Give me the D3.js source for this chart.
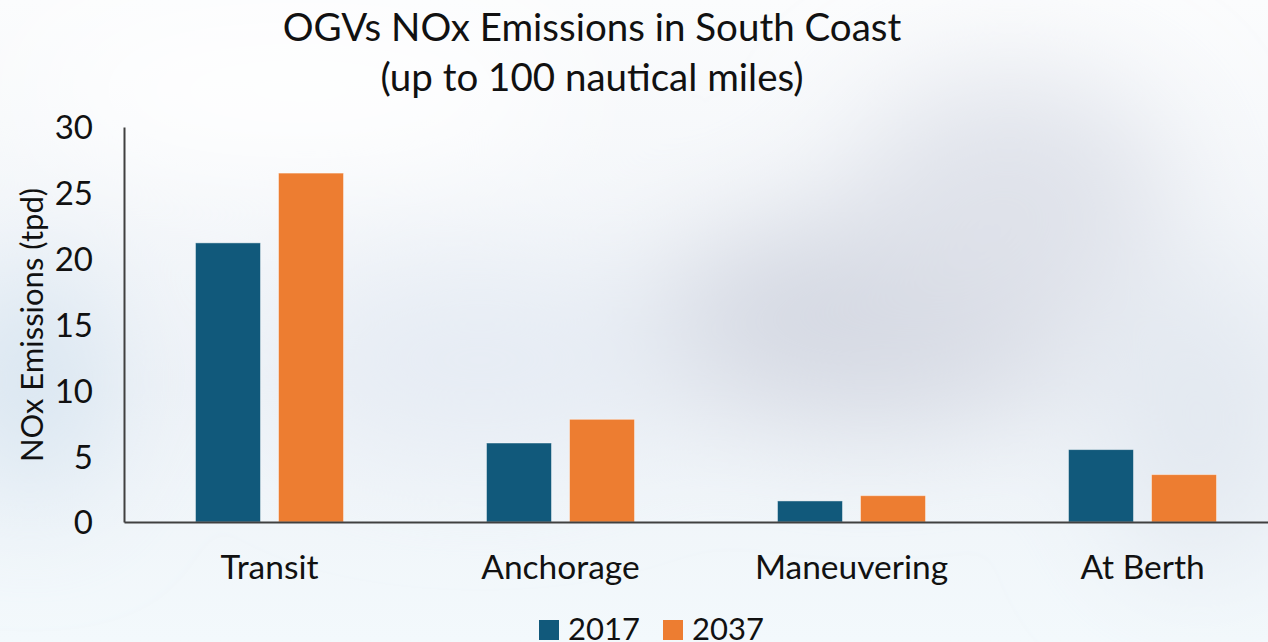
<!DOCTYPE html>
<html lang="en">
<head>
<meta charset="UTF-8">
<title>OGVs NOx Emissions in South Coast</title>
<style>
  html, body { margin: 0; padding: 0; overflow: hidden; background: #f4f7fa; }
  svg text { font-family: Lato, "Open Sans", sans-serif; fill: #111; }
</style>
<script src="https://d3js.org/d3.v7.min.js"></script>
</head>
<body>
<script>
const categories = ['Transit', 'Anchorage', 'Maneuvering', 'At Berth'];
const seriesNames = ['2017', '2037'];
const values2017 = [21.2, 6.0, 1.6, 5.5];
const values2037 = [26.5, 7.8, 2.0, 3.6];
const yTicks = [0, 5, 10, 15, 20, 25, 30];
const seriesColors = ['#11597b', '#ed7d31'];

const width = 1268, height = 642;

const svg = d3.select('body').append('svg')
  .attr('width', width)
  .attr('height', height);

// soft cloudy background
const defs = svg.append('defs');
defs.append('filter').attr('id', 'blur')
  .attr('x', '-50%').attr('y', '-50%').attr('width', '200%').attr('height', '200%')
  .append('feGaussianBlur').attr('stdDeviation', 60);

const bgGrad = defs.append('linearGradient').attr('id', 'bg')
  .attr('x1', 0).attr('y1', 0).attr('x2', 0).attr('y2', 1);
bgGrad.append('stop').attr('offset', 0).attr('stop-color', '#fbfcfd');
bgGrad.append('stop').attr('offset', 0.6).attr('stop-color', '#eef2f7');
bgGrad.append('stop').attr('offset', 1).attr('stop-color', '#f3f9fc');
svg.append('rect').attr('width', width).attr('height', height).attr('fill', 'url(#bg)');

const clouds = svg.append('g').attr('filter', 'url(#blur)');
clouds.append('ellipse').attr('cx', 870).attr('cy', 320).attr('rx', 220).attr('ry', 100).attr('fill', '#d4d8e2');
clouds.append('ellipse').attr('cx', 1010).attr('cy', 200).attr('rx', 160).attr('ry', 120).attr('fill', '#dfe2ea');
clouds.append('ellipse').attr('cx', 30).attr('cy', 380).attr('rx', 70).attr('ry', 120).attr('fill', '#d6e4f0');
clouds.append('ellipse').attr('cx', 480).attr('cy', 360).attr('rx', 200).attr('ry', 90).attr('fill', '#e6ecf4');
clouds.append('ellipse').attr('cx', 1200).attr('cy', 420).attr('rx', 90).attr('ry', 150).attr('fill', '#e2e8f0');
clouds.append('ellipse').attr('cx', 300).attr('cy', 90).attr('rx', 260).attr('ry', 70).attr('fill', '#ffffff');

const margin = { left: 124, top: 127, bottom: 522 };

const x0 = d3.scaleBand()
  .domain(categories)
  .range([margin.left, margin.left + 4 * 291])
  .paddingInner(0)
  .paddingOuter(0);

const x1 = d3.scaleBand()
  .domain(seriesNames)
  .range([0, x0.bandwidth()])
  .paddingInner(0.217)
  .paddingOuter(0.861);

const y = d3.scaleLinear()
  .domain([0, 30])
  .range([margin.bottom, margin.top]);

const rows = categories.map((c, i) => ({
  category: c,
  values: [values2017[i], values2037[i]]
}));

// bars
const groups = svg.selectAll('g.cat')
  .data(rows)
  .enter().append('g')
  .attr('class', 'cat')
  .attr('transform', d => `translate(${x0(d.category)},0)`);

groups.selectAll('rect')
  .data(d => d.values.map((v, i) => ({ series: seriesNames[i], value: v, idx: i })))
  .enter().append('rect')
  .attr('x', d => x1(d.series))
  .attr('y', d => y(d.value))
  .attr('width', x1.bandwidth())
  .attr('height', d => y(0) - y(d.value))
  .attr('fill', d => seriesColors[d.idx])
  .attr('stroke', 'rgba(255,255,255,0.45)')
  .attr('stroke-width', 1);

// y axis
const yAxis = d3.axisLeft(y).tickValues(yTicks).tickSize(0).tickPadding(31);
const gy = svg.append('g')
  .attr('transform', `translate(${margin.left},0)`)
  .call(yAxis);
gy.select('.domain').attr('stroke', '#404040').attr('stroke-width', 2);
gy.selectAll('text')
  .style('font-size', '33px')
  .style('font-family', 'Lato, sans-serif')
  .attr('fill', '#111')
  .attr('dy', '0.36em');

// x axis
const xAxis = d3.axisBottom(x0).tickSize(0).tickPadding(33);
const gx = svg.append('g')
  .attr('transform', `translate(0,${margin.bottom})`)
  .call(xAxis);
gx.select('.domain').attr('stroke', '#404040').attr('stroke-width', 2);
gx.selectAll('text')
  .style('font-size', '33.5px')
  .style('font-family', 'Lato, sans-serif')
  .attr('fill', '#111');

// title
svg.append('text')
  .attr('x', 592).attr('y', 41)
  .attr('text-anchor', 'middle')
  .style('font-size', '38.5px')
  .text('OGVs NOx Emissions in South Coast');
svg.append('text')
  .attr('x', 592).attr('y', 91)
  .attr('text-anchor', 'middle')
  .style('font-size', '38.5px')
  .text('(up to 100 nautical miles)');

// y axis title
svg.append('text')
  .attr('transform', 'translate(43,325) rotate(-90)')
  .attr('text-anchor', 'middle')
  .style('font-size', '31px')
  .text('NOx Emissions (tpd)');

// legend
const legendX = [539, 663];
const legend = svg.selectAll('g.legend')
  .data(seriesNames)
  .enter().append('g')
  .attr('class', 'legend')
  .attr('transform', (d, i) => `translate(${legendX[i]},620)`);
legend.append('rect')
  .attr('width', 20).attr('height', 20)
  .attr('fill', (d, i) => seriesColors[i]);
legend.append('text')
  .attr('x', 29).attr('y', 20)
  .style('font-size', '31px')
  .text(d => d);
</script>
</body>
</html>
